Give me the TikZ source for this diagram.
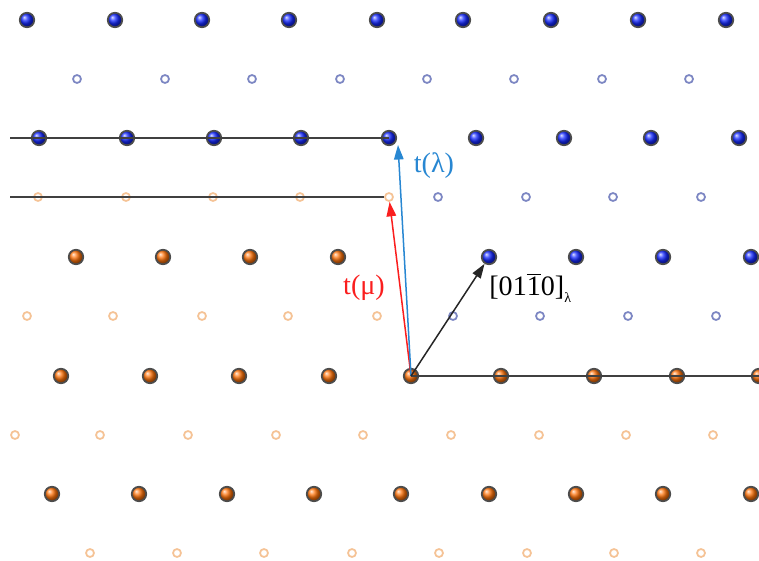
\documentclass[tikz,border=0pt]{standalone}
\usepackage{fontspec}
\setmainfont{Liberation Serif}
\usepackage{xcolor}
\usetikzlibrary{arrows.meta}

\definecolor{bsitecol}{RGB}{125,135,195}
\definecolor{ositecol}{RGB}{245,195,150}
\definecolor{tlam}{RGB}{40,135,210}
\definecolor{tmu}{RGB}{250,30,30}
\definecolor{oball}{RGB}{255,115,10}
\definecolor{bball}{RGB}{20,40,255}
\newcommand{\barone}{\ensuremath{\overline{\mbox{1}}}}

\begin{document}
\begin{tikzpicture}[
  x=0.2mm, y=-0.2mm,
  batom/.style={circle, inner sep=0pt, minimum size=2.9mm, shading=ball, ball color=bball, draw=black!70, line width=0.35mm},
  oatom/.style={batom, ball color=oball},
  bsite/.style={circle, inner sep=0pt, minimum size=1.6mm, draw=bsitecol, line width=0.35mm, fill=white},
  osite/.style={bsite, draw=ositecol},
  plane/.style={draw=black!75, line width=0.4mm},
  vec/.style={-{Triangle[length=2.9mm,width=1.9mm]}, line width=0.3mm},
  lbl/.style={font=\fontsize{16}{18}\selectfont, inner sep=0pt}
]
  \useasboundingbox (0,0) rectangle (759,561);

  % lambda crystal (blue)
  \foreach \x [count=\i] in {27,115,202,289,377,463,551,638,726}
    \node[batom] (bA\i) at (\x,20) {};
  \foreach \x [count=\i] in {77,165,252,340,427,514,602,689}
    \node[bsite] (bB\i) at (\x,79) {};
  \foreach \x [count=\i] in {39,127,214,301,389,476,564,651,739}
    \node[batom] (bC\i) at (\x,138) {};
  \foreach \x [count=\i] in {438,526,613,701}
    \node[bsite] (bD\i) at (\x,197) {};
  \foreach \x [count=\i] in {489,576,663,751}
    \node[batom] (bE\i) at (\x,257) {};
  \foreach \x [count=\i] in {453,540,628,716}
    \node[bsite] (bF\i) at (\x,316) {};

  % mu crystal (orange)
  \foreach \x [count=\i] in {38,126,213,300,389}
    \node[osite] (oD\i) at (\x,197) {};
  \foreach \x [count=\i] in {76,163,250,338}
    \node[oatom] (oE\i) at (\x,257) {};
  \foreach \x [count=\i] in {27,113,202,288,377}
    \node[osite] (oF\i) at (\x,316) {};
  \foreach \x [count=\i] in {61,150,239,329,411,501,594,677,759}
    \node[oatom] (oG\i) at (\x,376) {};
  \foreach \x [count=\i] in {15,100,188,276,363,451,539,626,713}
    \node[osite] (oH\i) at (\x,435) {};
  \foreach \x [count=\i] in {52,139,227,314,401,489,576,663,751}
    \node[oatom] (oI\i) at (\x,494) {};
  \foreach \x [count=\i] in {90,177,264,352,439,527,614,701}
    \node[osite] (oJ\i) at (\x,553) {};

  % planes
  \coordinate (lC) at (10,138);
  \coordinate (lD) at (10,197);
  \coordinate (rG) at (759,376);
  \draw[plane] (lC) -- (bC5.center);
  \draw[plane] (lD) -- (oD5.west);
  \draw[plane] (oG5.center) -- (rG);

  % vectors
  \coordinate (tipL) at (398,145);
  \draw[vec, tmu] (oG5.center) -- (oD5);
  \draw[vec, tlam] (oG5.center) -- (tipL);
  \draw[vec, black!85] (oG5.center) -- (bE1);

  \node[lbl, text=tlam] (lamlbl) at (434,166) {t(λ)};
  \node[lbl, text=tmu] (mulbl) at (364,288) {t(μ)};
  \node[lbl, anchor=west] (dirlbl) at (489,288) {[01\barone 0]\raisebox{-0.5ex}{\fontsize{8}{8}\selectfont λ}};
\end{tikzpicture}
\end{document}
